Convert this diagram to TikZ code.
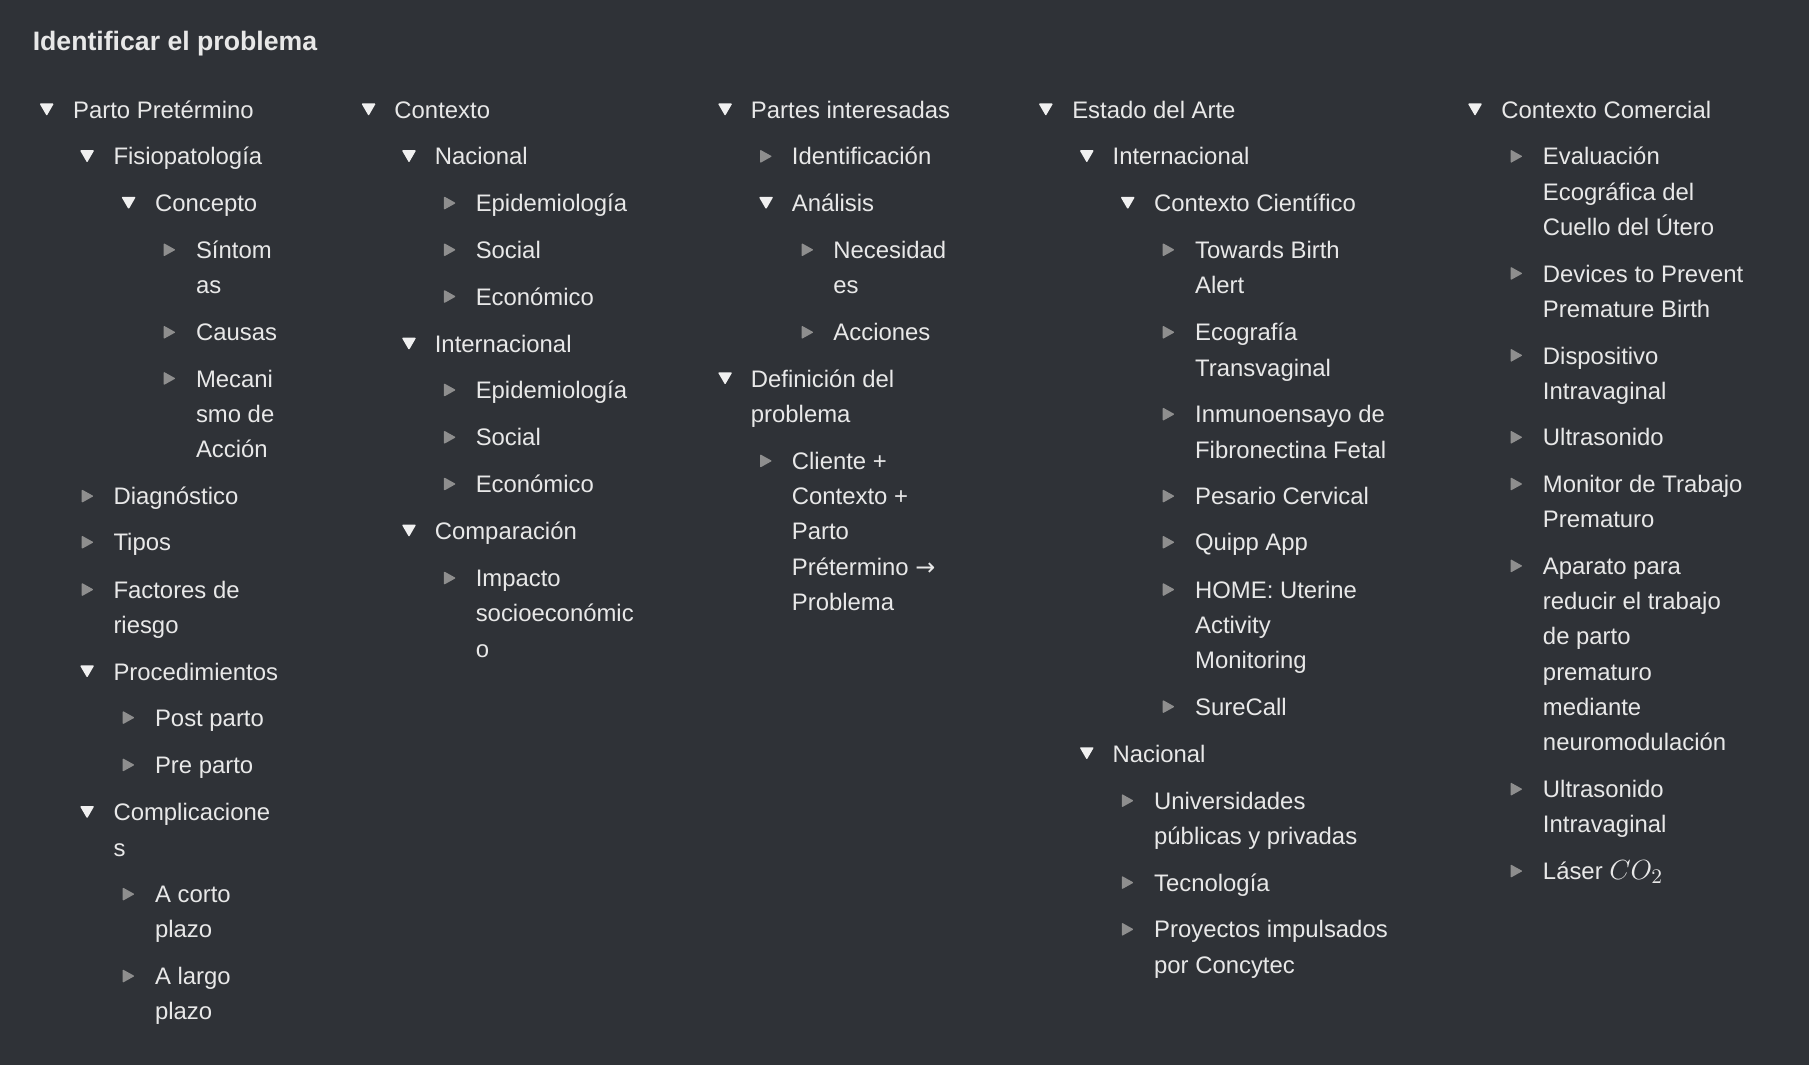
\documentclass[tikz,border=0pt]{standalone}
\usepackage{fontspec}
\setmainfont{Liberation Sans}
\newfontfamily\arrowfont{DejaVu Sans}
\usepackage{tikz}

\definecolor{bgcol}{RGB}{47,50,55}
\definecolor{fgcol}{RGB}{232,232,232}
\definecolor{opencol}{RGB}{240,240,240}
\definecolor{shutcol}{RGB}{142,142,142}

\newcommand{\ml}[1]{\begin{tabular}[t]{@{}l@{}}#1\end{tabular}}

\tikzset{
  lbl/.style={anchor=base west, inner sep=0pt, text=fgcol, yshift=-3.75pt,
    font=\fontsize{10.35pt}{15.25pt}\selectfont},
  opened/.pic={\fill[opencol, rounded corners=0.4pt] (-6.2,-5.3) -- (6.2,-5.3) -- (0,5.4) -- cycle;},
  shut/.pic={\fill[shutcol, rounded corners=0.4pt] (-5.2,-5.8) -- (-5.2,5.8) -- (5.2,0) -- cycle;}
}

\begin{document}
\begin{tikzpicture}[line cap=round,line join=round,x=0.5pt,y=-0.5pt]
\fill[bgcol] (0,0) rectangle (1568,923);
\useasboundingbox (0,0) rectangle (1568,923);
\node[anchor=base west, inner sep=0pt, text=fgcol, font=\bfseries\fontsize{11.55pt}{14pt}\selectfont] (title) at (28,44) {Identificar el problema};
% column 1
\pic at (40.5,95) {opened}; \node[lbl] (parto) at (63,95) {Parto Pretérmino};
\pic at (75.5,135.5) {opened}; \node[lbl] (fisio) at (98,135.5) {Fisiopatología};
\pic at (111.5,176) {opened}; \node[lbl] (concepto) at (134,176) {Concepto};
\pic at (147,216.5) {shut}; \node[lbl] (sintomas) at (169.5,216.5) {\ml{Síntom\\as}};
\pic at (147,288) {shut}; \node[lbl] (causas) at (169.5,288) {Causas};
\pic at (147,328) {shut}; \node[lbl] (mecanismo) at (169.5,328) {\ml{Mecani\\smo de\\Acción}};
\pic at (76,430) {shut}; \node[lbl] (diagnostico) at (98,430) {Diagnóstico};
\pic at (76,470) {shut}; \node[lbl] (tipos) at (98,470) {Tipos};
\pic at (76,511) {shut}; \node[lbl] (factores) at (98,511) {\ml{Factores de\\riesgo}};
\pic at (75.5,582) {opened}; \node[lbl] (procedimientos) at (98,582) {Procedimientos};
\pic at (111.5,622) {shut}; \node[lbl] (postparto) at (134,622) {Post parto};
\pic at (111.5,663) {shut}; \node[lbl] (preparto) at (134,663) {Pre parto};
\pic at (75.5,704) {opened}; \node[lbl] (complicaciones) at (98,704) {\ml{Complicacione\\s}};
\pic at (111.5,775) {shut}; \node[lbl] (corto) at (134,775) {\ml{A corto\\plazo}};
\pic at (111.5,846) {shut}; \node[lbl] (largo) at (134,846) {\ml{A largo\\plazo}};
% column 2
\pic at (319.5,95) {opened}; \node[lbl] (contexto) at (341.5,95) {Contexto};
\pic at (354.5,135.5) {opened}; \node[lbl] (nacional) at (376.5,135.5) {Nacional};
\pic at (390,176) {shut}; \node[lbl] (epinac) at (412,176) {Epidemiología};
\pic at (390,216.5) {shut}; \node[lbl] (socnac) at (412,216.5) {Social};
\pic at (390,257) {shut}; \node[lbl] (econac) at (412,257) {Económico};
\pic at (354.5,298) {opened}; \node[lbl] (internac) at (376.5,298) {Internacional};
\pic at (390,338) {shut}; \node[lbl] (epiint) at (412,338) {Epidemiología};
\pic at (390,379) {shut}; \node[lbl] (socint) at (412,379) {Social};
\pic at (390,419.5) {shut}; \node[lbl] (ecoint) at (412,419.5) {Económico};
\pic at (354.5,460) {opened}; \node[lbl] (comparacion) at (376.5,460) {Comparación};
\pic at (390,501) {shut}; \node[lbl] (impacto) at (412,501) {\ml{Impacto\\socioeconómic\\o}};
% column 3
\pic at (628.5,95) {opened}; \node[lbl] (partes) at (650.5,95) {Partes interesadas};
\pic at (664,135.5) {shut}; \node[lbl] (identificacion) at (686,135.5) {Identificación};
\pic at (664,176) {opened}; \node[lbl] (analisis) at (686,176) {Análisis};
\pic at (700,216.5) {shut}; \node[lbl] (necesidades) at (722,216.5) {\ml{Necesidad\\es}};
\pic at (700,288) {shut}; \node[lbl] (acciones) at (722,288) {Acciones};
\pic at (628.5,328) {opened}; \node[lbl] (definicion) at (650.5,328) {\ml{Definición del\\problema}};
\pic at (664,399.5) {shut}; \node[lbl] (cliente) at (686,399.5) {\ml{Cliente +\\Contexto +\\Parto\\Prétermino {\arrowfont →}\\Problema}};
% column 4
\pic at (906.5,95) {opened}; \node[lbl] (estado) at (929,95) {Estado del Arte};
\pic at (942,135.5) {opened}; \node[lbl] (intarte) at (964,135.5) {Internacional};
\pic at (977.5,176) {opened}; \node[lbl] (cientifico) at (1000,176) {Contexto Científico};
\pic at (1013,216.5) {shut}; \node[lbl] (towards) at (1035.5,216.5) {\ml{Towards Birth\\Alert}};
\pic at (1013,288) {shut}; \node[lbl] (ecografia) at (1035.5,288) {\ml{Ecografía\\Transvaginal}};
\pic at (1013,359) {shut}; \node[lbl] (inmuno) at (1035.5,359) {\ml{Inmunoensayo de\\Fibronectina Fetal}};
\pic at (1013,430) {shut}; \node[lbl] (pesario) at (1035.5,430) {Pesario Cervical};
\pic at (1013,470) {shut}; \node[lbl] (quipp) at (1035.5,470) {Quipp App};
\pic at (1013,511) {shut}; \node[lbl] (home) at (1035.5,511) {\ml{HOME: Uterine\\Activity\\Monitoring}};
\pic at (1013,612.5) {shut}; \node[lbl] (surecall) at (1035.5,612.5) {SureCall};
\pic at (942,653) {opened}; \node[lbl] (nacarte) at (964,653) {Nacional};
\pic at (977.5,694) {shut}; \node[lbl] (universidades) at (1000,694) {\ml{Universidades\\públicas y privadas}};
\pic at (977.5,765) {shut}; \node[lbl] (tecnologia) at (1000,765) {Tecnología};
\pic at (977.5,805.5) {shut}; \node[lbl] (proyectos) at (1000,805.5) {\ml{Proyectos impulsados\\por Concytec}};
% column 5
\pic at (1278.5,95) {opened}; \node[lbl] (comercial) at (1301,95) {Contexto Comercial};
\pic at (1314.5,135.5) {shut}; \node[lbl] (evaluacion) at (1337,135.5) {\ml{Evaluación\\Ecográfica del\\Cuello del Útero}};
\pic at (1314.5,237) {shut}; \node[lbl] (devices) at (1337,237) {\ml{Devices to Prevent\\Premature Birth}};
\pic at (1314.5,308) {shut}; \node[lbl] (dispositivo) at (1337,308) {\ml{Dispositivo\\Intravaginal}};
\pic at (1314.5,379) {shut}; \node[lbl] (ultrasonido) at (1337,379) {Ultrasonido};
\pic at (1314.5,419.5) {shut}; \node[lbl] (monitor) at (1337,419.5) {\ml{Monitor de Trabajo\\Prematuro}};
\pic at (1314.5,490.5) {shut}; \node[lbl] (aparato) at (1337,490.5) {\ml{Aparato para\\reducir el trabajo\\de parto\\prematuro\\mediante\\neuromodulación}};
\pic at (1314.5,684) {shut}; \node[lbl] (ultraintra) at (1337,684) {\ml{Ultrasonido\\Intravaginal}};
\pic at (1314.5,755) {shut}; \node[lbl] (laser) at (1337,755) {Láser {\fontsize{12.2pt}{15.25pt}\selectfont$CO_2$}};
\end{tikzpicture}
\end{document}
